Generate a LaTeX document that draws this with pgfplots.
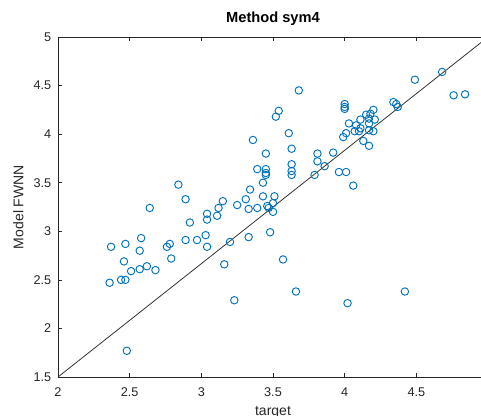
\documentclass[border=0pt]{standalone}
\usepackage{fontspec}
\setmainfont{Liberation Sans}
\usepackage{pgfplots}
\pgfplotsset{compat=1.18}
\definecolor{mblue}{RGB}{0,114,189}
\definecolor{axgray}{RGB}{38,38,38}
\begin{document}
\begin{tikzpicture}
\begin{axis}[
  scale only axis,
  width=322.5pt, height=255pt,
  xmin=2, xmax=5, ymin=1.5, ymax=5,
  xtick={2,2.5,3,3.5,4,4.5},
  ytick={1.5,2,2.5,3,3.5,4,4.5,5},
  tick align=inside,
  major tick length=3.2pt,
  axis line style={axgray, line width=0.5pt},
  every tick/.style={axgray, line width=0.5pt},
  /pgf/number format/assume math mode=true,
  tick label style={font=\fontsize{9.5}{11}\selectfont, text=axgray},
  yticklabel style={xshift=-1.5pt},
  xticklabel style={yshift=-4.5pt},
  title={Method sym4},
  title style={font=\bfseries\fontsize{11}{13}\selectfont, at={(axis description cs:0.5,1)}, anchor=base, yshift=4.9pt},
  xlabel={target},
  ylabel={Model FWNN},
  xlabel style={font=\fontsize{10.5}{12}\selectfont, text=axgray, at={(axis description cs:0.5,-0.112)}, anchor=base},
  ylabel style={font=\fontsize{10.5}{12}\selectfont, text=axgray, at={(axis description cs:-0.0806,0.5)}, anchor=base},
  clip=false,
]
\addplot[black!80, line width=0.6pt] coordinates {(2,1.5) (5,5)};
\addplot[only marks, mark=o, mark size=2.8pt, mblue, mark options={line width=0.7pt}] coordinates {
(2.36,2.47) (2.44,2.50) (2.47,2.50) (2.48,1.77) (2.37,2.84) (2.47,2.87) (2.46,2.69)
(2.51,2.59) (2.57,2.61) (2.62,2.64) (2.68,2.60) (2.57,2.80) (2.58,2.93) (2.64,3.24)
(2.76,2.84) (2.78,2.87) (2.79,2.72) (2.84,3.48) (2.89,3.33) (2.89,2.91) (2.92,3.09)
(2.97,2.91) (3.03,2.96) (3.04,2.84) (3.04,3.18) (3.04,3.12) (3.11,3.16) (3.12,3.24)
(3.15,3.31) (3.16,2.66) (3.20,2.89) (3.23,2.29) (3.25,3.27) (3.31,3.33) (3.33,3.23)
(3.33,2.94) (3.34,3.43) (3.36,3.94) (3.39,3.24) (3.39,3.64) (3.43,3.50) (3.43,3.36)
(3.45,3.80) (3.45,3.64) (3.45,3.60) (3.45,3.58) (3.46,3.26) (3.47,3.24) (3.50,3.29)
(3.51,3.36) (3.50,3.20) (3.48,2.99) (3.52,4.18) (3.54,4.24) (3.57,2.71) (3.61,4.01)
(3.63,3.85) (3.63,3.69) (3.63,3.62) (3.63,3.58) (3.66,2.38) (3.68,4.45) (3.79,3.58)
(3.81,3.80) (3.81,3.72) (3.86,3.67) (3.92,3.81) (3.96,3.61) (4.01,3.61) (4.06,3.47)
(3.99,3.97) (4.01,4.01) (4.00,4.31) (4.00,4.28) (4.00,4.26) (4.03,4.11) (4.02,2.26)
(4.07,4.03) (4.08,4.09) (4.10,4.03) (4.11,4.06) (4.11,4.15) (4.13,3.93) (4.15,4.20)
(4.17,4.16) (4.17,4.11) (4.17,4.04) (4.17,3.88) (4.18,4.21) (4.20,4.25) (4.20,4.03)
(4.21,4.15) (4.34,4.33) (4.36,4.31) (4.37,4.28) (4.42,2.38) (4.49,4.56) (4.68,4.64)
(4.76,4.40) (4.84,4.41)
};
\coordinate (bbsw) at (rel axis cs:0,0);
\end{axis}
\pgfresetboundingbox
\path[use as bounding box] ([shift={(-43.5pt,-29.25pt)}]bbsw) rectangle ([shift={(317.25pt,282.75pt)}]bbsw);
\end{tikzpicture}
\end{document}
